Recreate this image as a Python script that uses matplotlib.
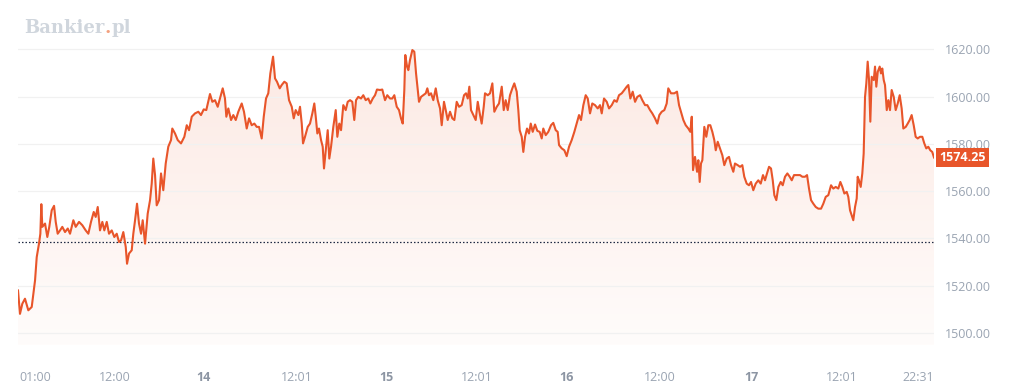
import matplotlib
matplotlib.use("Agg")
import matplotlib.pyplot as plt
import numpy as np
from matplotlib.colors import LinearSegmentedColormap
from matplotlib.patches import Polygon

# Trading-session hours elapsed since the first quote (axis is compressed)
hours = [
    0.0, 0.26, 0.57, 0.92, 1.36, 1.81, 2.25, 2.47, 2.77, 2.95, 3.08, 3.21, 3.57, 3.87,
    4.13, 4.45, 4.76, 4.98, 5.24, 5.55, 5.85, 6.21, 6.57, 6.87, 7.31, 7.62, 8.06, 8.49,
    8.94, 9.29, 9.64, 10.0, 10.26, 10.53, 10.83, 11.14, 11.4, 11.72, 12.02, 12.38, 12.72,
    13.04, 13.34, 13.61, 13.91, 14.23, 14.4, 14.66, 15.02, 15.23, 15.46, 15.72, 15.98,
    16.25, 16.47, 16.78, 17.13, 17.44, 17.66, 17.87, 18.1, 18.32, 18.63, 18.89, 19.19,
    19.51, 19.85, 20.21, 20.38, 20.74, 21.1, 21.53, 21.97, 22.29, 22.59, 22.95, 23.38,
    23.82, 24.17, 24.53, 24.87, 25.36, 25.67, 26.02, 26.38, 26.68, 27.04, 27.34, 27.52,
    27.78, 28.14, 28.44, 28.76, 29.1, 29.55, 29.85, 30.21, 30.52, 30.87, 31.22, 31.53,
    31.84, 32.19, 32.46, 32.76, 33.06, 33.33, 33.69, 33.95, 34.21, 34.57, 34.83, 35.18,
    35.49, 35.8, 36.16, 36.42, 36.68, 37.03, 37.25, 37.48, 37.65, 37.91, 38.27, 38.57,
    38.88, 39.14, 39.33, 39.54, 39.76, 40.03, 40.25, 40.42, 40.65, 40.91, 41.12, 41.35,
    41.65, 41.97, 42.18, 42.44, 42.67, 42.97, 43.29, 43.55, 43.86, 44.16, 44.42, 44.65,
    44.95, 45.31, 45.61, 45.93, 46.27, 46.54, 46.86, 47.16, 47.42, 47.82, 48.12, 48.48,
    48.78, 49.14, 49.44, 49.71, 50.03, 50.33, 50.59, 50.82, 51.03, 51.16, 51.39, 51.56,
    51.78, 52.09, 52.35, 52.58, 52.8, 52.97, 53.24, 53.54, 53.86, 54.07, 54.29, 54.56,
    54.86, 55.18, 55.44, 55.75, 55.97, 56.27, 56.5, 56.76, 57.07, 57.37, 57.64, 57.95,
    58.26, 58.61, 58.92, 59.18, 59.41, 59.62, 59.84, 60.15, 60.46, 60.73, 61.03, 61.25,
    61.52, 61.69, 62.05, 62.35, 62.66, 62.92, 63.24, 63.54, 63.9, 64.16, 64.42, 64.69,
    64.99, 65.3, 65.56, 65.88, 66.09, 66.27, 66.54, 66.75, 66.98, 67.24, 67.5, 67.73,
    67.99, 68.3, 68.6, 68.91, 69.18, 69.39, 69.71, 70.05, 70.41, 70.71, 71.03, 71.29,
    71.47, 71.82, 72.17, 72.48, 72.79, 73.14, 73.49, 73.8, 74.11, 74.37, 74.68, 74.99,
    75.26, 75.56, 75.86, 76.22, 76.58, 76.88, 77.11, 77.41, 77.77, 78.07, 78.43, 78.77,
    79.09, 79.39, 79.75, 80.09, 80.41, 80.62, 80.89, 81.2, 81.51, 81.81, 82.17, 82.47,
    82.83, 83.13, 83.49, 83.79, 84.15, 84.45, 84.72, 85.03, 85.38, 85.69, 85.9, 86.26,
    86.7, 87.05, 87.32, 87.58, 87.89, 88.2, 88.55, 88.81, 89.0, 89.17, 89.43, 89.7,
    89.87, 90.05, 90.22, 90.4, 90.66, 90.92, 91.19, 91.45, 91.72, 91.98, 92.17, 92.43,
    92.73, 93.04, 93.3, 93.62, 93.92, 94.19, 94.49, 94.71, 95.07, 95.38, 95.68, 95.94,
    96.26, 96.56, 96.83, 97.13, 97.45, 97.79, 98.11, 98.41, 98.68, 98.94, 99.21, 99.47,
    99.7, 99.91, 100.17, 100.44, 100.75, 101.02, 101.32, 101.63, 101.94, 102.21, 102.51,
    102.87, 103.3, 103.61, 103.96, 104.23, 104.49, 104.76, 105.06, 105.38, 105.72,
    106.08, 106.38, 106.7, 107.04, 107.4, 107.7, 108.02, 108.36, 108.63, 108.89, 109.16,
    109.47, 109.68, 109.91, 110.13, 110.34, 110.57, 110.79, 110.92, 111.09, 111.32,
    111.53, 111.71, 111.89, 112.06, 112.24, 112.42, 112.59, 112.77, 113.04, 113.21,
    113.38, 113.57, 113.83, 114.0, 114.17, 114.36, 114.53, 114.76, 114.97, 115.19,
    115.41, 115.68, 115.94, 116.21, 116.47, 116.73, 116.95, 117.27, 117.53, 117.79,
    118.05, 118.32, 118.58, 118.85, 119.15, 119.46, 119.72, 119.98, 120.25, 120.51,
    120.77, 121.0,
]
prices = [
    1518.0, 1508.1, 1512.4, 1514.5, 1509.6, 1511.0, 1522.3, 1532.1, 1537.8, 1542.0,
    1554.5, 1544.9, 1546.3, 1540.6, 1544.9, 1551.9, 1553.8, 1547.0, 1542.0, 1543.4,
    1544.9, 1542.7, 1544.2, 1542.0, 1547.7, 1544.9, 1547.0, 1545.6, 1543.4, 1542.0,
    1547.0, 1551.2, 1549.1, 1553.3, 1543.4, 1547.0, 1543.4, 1547.0, 1542.0, 1543.4,
    1540.6, 1542.0, 1538.5, 1539.2, 1542.7, 1536.4, 1529.3, 1533.6, 1535.0, 1542.0,
    1547.7, 1554.7, 1546.3, 1542.0, 1547.7, 1537.8, 1550.5, 1556.2, 1563.2, 1573.8,
    1566.8, 1554.0, 1556.2, 1567.5, 1560.4, 1571.7, 1578.8, 1581.6, 1586.5, 1584.4,
    1581.6, 1580.2, 1583.0, 1587.9, 1585.8, 1591.5, 1592.9, 1593.6, 1592.2, 1594.6,
    1594.3, 1601.1, 1597.8, 1598.5, 1595.7, 1599.2, 1603.5, 1599.2, 1591.5, 1595.0,
    1590.1, 1592.2, 1590.1, 1593.6, 1597.1, 1593.6, 1586.5, 1590.8, 1587.9, 1588.6,
    1587.2, 1587.2, 1582.3, 1591.5, 1599.2, 1601.4, 1609.8, 1616.9, 1607.7, 1606.3,
    1603.5, 1604.9, 1606.3, 1605.6, 1598.5, 1595.7, 1590.8, 1594.3, 1592.2, 1595.7,
    1588.6, 1580.2, 1583.0, 1587.2, 1588.6, 1592.9, 1597.1, 1591.5, 1584.4, 1586.5,
    1581.6, 1578.8, 1569.6, 1577.3, 1585.8, 1573.8, 1578.8, 1587.2, 1594.3, 1583.0,
    1588.6, 1585.8, 1596.4, 1594.3, 1597.8, 1598.5, 1597.8, 1590.1, 1598.5, 1599.9,
    1599.2, 1600.6, 1598.5, 1599.2, 1597.1, 1599.2, 1600.6, 1603.0, 1602.8, 1603.0,
    1598.5, 1600.6, 1599.2, 1599.2, 1600.6, 1595.7, 1594.3, 1590.8, 1588.6, 1602.8,
    1617.6, 1612.7, 1611.2, 1615.5, 1619.7, 1619.0, 1609.8, 1602.8, 1597.8, 1599.9,
    1600.6, 1601.4, 1603.5, 1600.6, 1601.4, 1598.5, 1603.5, 1598.5, 1595.0, 1587.9,
    1597.8, 1594.3, 1590.1, 1593.6, 1590.8, 1590.1, 1597.8, 1595.7, 1596.4, 1600.6,
    1601.4, 1599.2, 1604.2, 1594.3, 1592.2, 1590.1, 1597.8, 1592.2, 1588.6, 1595.7,
    1601.4, 1600.6, 1601.4, 1605.6, 1593.6, 1595.7, 1597.1, 1604.2, 1594.3, 1598.5,
    1594.3, 1600.6, 1603.5, 1605.6, 1602.1, 1594.3, 1585.8, 1583.0, 1576.6, 1583.0,
    1586.5, 1584.4, 1588.6, 1585.1, 1588.2, 1585.5, 1585.1, 1582.3, 1586.5, 1583.7,
    1585.1, 1587.9, 1588.9, 1585.8, 1585.1, 1579.5, 1578.1, 1577.3, 1574.8, 1578.8,
    1581.6, 1585.1, 1588.6, 1592.2, 1590.1, 1596.4, 1600.6, 1599.2, 1592.9, 1597.1,
    1596.4, 1595.0, 1596.4, 1592.9, 1599.2, 1597.8, 1595.0, 1596.4, 1598.5, 1597.8,
    1600.6, 1601.4, 1602.8, 1604.2, 1604.9, 1599.2, 1602.1, 1597.8, 1599.9, 1600.6,
    1598.5, 1596.4, 1596.4, 1594.3, 1592.9, 1590.8, 1588.6, 1592.2, 1593.6, 1594.3,
    1597.1, 1603.5, 1601.4, 1601.4, 1602.1, 1596.4, 1593.6, 1590.1, 1587.9, 1586.5,
    1585.1, 1591.5, 1568.9, 1574.5, 1568.2, 1573.1, 1563.9, 1571.7, 1573.1, 1587.2,
    1583.0, 1587.9, 1587.9, 1585.1, 1581.6, 1577.3, 1580.9, 1578.1, 1575.2, 1571.0,
    1573.8, 1574.5, 1571.0, 1568.2, 1571.7, 1571.0, 1570.3, 1571.0, 1566.1, 1563.2,
    1562.5, 1563.9, 1560.4, 1563.2, 1564.6, 1563.2, 1566.8, 1564.6, 1567.5, 1570.3,
    1569.6, 1564.6, 1558.3, 1556.2, 1561.8, 1563.9, 1562.5, 1566.1, 1567.5, 1566.1,
    1564.6, 1566.8, 1566.8, 1566.8, 1566.1, 1566.1, 1566.8, 1561.1, 1556.2, 1554.7,
    1553.3, 1552.6, 1552.6, 1554.7, 1557.6, 1558.3, 1562.5, 1561.1, 1561.8, 1561.1,
    1563.9, 1561.8, 1559.0, 1559.7, 1557.6, 1551.9, 1549.8, 1547.7, 1553.3, 1556.9,
    1566.1, 1564.6, 1561.8, 1567.5, 1575.9, 1599.9, 1605.6, 1614.8, 1607.0, 1589.4,
    1608.4, 1607.0, 1612.7, 1604.2, 1610.5, 1612.7, 1609.8, 1611.9, 1607.0, 1604.9,
    1594.3, 1598.5, 1594.3, 1602.8, 1599.9, 1594.3, 1597.1, 1600.6, 1595.0, 1586.5,
    1587.2, 1588.6, 1590.1, 1592.2, 1587.9, 1583.0, 1582.3, 1583.0, 1583.0, 1580.2,
    1578.1, 1578.8, 1577.3, 1576.6, 1574.25,
]
prev_close = 1538.4
last_price = 1574.25

y_ticks = [1500, 1520, 1540, 1560, 1580, 1600, 1620]
x_tick_pos = [2.25, 12.81, 24.44, 36.86, 48.61, 60.63, 72.52, 84.81, 96.83, 108.85, 118.89]
x_tick_labels = ["01:00", "12:00", "14", "12:01", "15", "12:01", "16", "12:00", "17", "12:01", "22:31"]
day_labels = {"14", "15", "16", "17"}

LINE = "#E8552A"
GRID = "#F1F1F1"
LABEL = "#9AA4B2"

plt.rcParams["font.family"] = ["Open Sans", "DejaVu Sans"]

fig = plt.figure(figsize=(10.24, 3.89), dpi=100, facecolor="white")
ax = fig.add_axes([0.0176, 0.113, 0.8945, 0.8355])
ax.set_xlim(hours[0], hours[-1])
ax.set_ylim(1494.9, 1632.4)

for side in ax.spines.values():
    side.set_visible(False)

ax.set_yticks(y_ticks)
ax.set_yticklabels([f"{v:.2f}" for v in y_ticks])
ax.yaxis.tick_right()
ax.tick_params(axis="y", length=0, pad=8, labelsize=9, labelcolor=LABEL)
ax.grid(axis="y", color=GRID, lw=0.9, zorder=0)

ax.set_xticks(x_tick_pos)
ax.set_xticklabels(x_tick_labels)
ax.tick_params(axis="x", length=0, pad=19, labelsize=9, labelcolor=LABEL)
for lab in ax.get_xticklabels():
    if lab.get_text() in day_labels:
        lab.set_fontweight("bold")
        lab.set_color("#8C95A3")

# gradient fill under the price line
x = np.array(hours)
y = np.array(prices)
y0 = ax.get_ylim()[0]
verts = np.vstack([np.column_stack([x, y]), [[x[-1], y0], [x[0], y0]]])
poly = Polygon(verts, closed=True, facecolor="none", edgecolor="none")
ax.add_patch(poly)
cmap = LinearSegmentedColormap.from_list("fade", ["#FFFCFB", "#FCE9E3"])
grad = np.linspace(0, 1, 256).reshape(-1, 1)
img = ax.imshow(grad, cmap=cmap, aspect="auto", origin="lower",
                extent=[x[0], x[-1], y0, 1620], zorder=1)
img.set_clip_path(poly)

ax.plot(x, y, color=LINE, lw=1.5, zorder=3, solid_joinstyle="round")
ax.axhline(prev_close, color="#1F2A44", lw=0.9, ls=(0, (1.2, 1.6)), zorder=2)

# last price badge
ax.annotate(f"{last_price:.2f}", xy=(1.0, last_price), xycoords=("axes fraction", "data"),
            xytext=(4, 0), textcoords="offset points", ha="left", va="center",
            fontsize=9, fontweight="bold", color="white", annotation_clip=False,
            bbox=dict(boxstyle="square,pad=0.25", fc=LINE, ec="none"), zorder=5)

# logo
logo = fig.text(0.024, 0.915, "Bankier", fontsize=13, fontweight="bold",
                family="DejaVu Serif", color="#D0D6DD", va="baseline")
fig.canvas.draw()
bb = logo.get_window_extent().transformed(fig.transFigure.inverted())
dot = fig.text(bb.x1, 0.915, ".", fontsize=13, fontweight="bold",
               family="DejaVu Serif", color="#F3A07E", va="baseline")
fig.canvas.draw()
bb2 = dot.get_window_extent().transformed(fig.transFigure.inverted())
fig.text(bb2.x1, 0.915, "pl", fontsize=13, fontweight="bold",
         family="DejaVu Serif", color="#D0D6DD", va="baseline")

fig.savefig("out.png", dpi=100, facecolor="white")
